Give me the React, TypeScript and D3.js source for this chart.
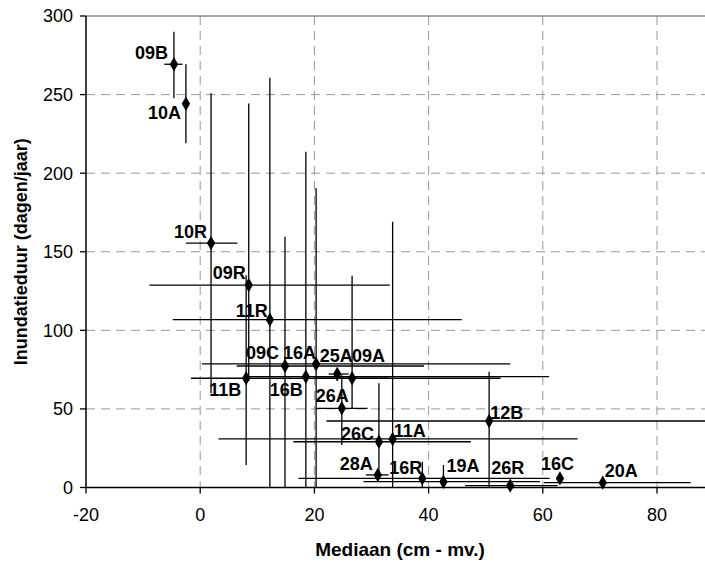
import React from "react";
import * as d3 from "d3";

// ---- data ----
const sites = ["09B","10A","10R","09R","11R","09C","16A","11B","16B","25A","09A","26A","12B","26C","11A","28A","16R","19A","26R","16C","20A"];
const mediaan = [-4.6,-2.5,1.9,8.5,12.2,14.85,20.3,8.05,18.5,24.0,26.6,24.8,50.6,31.3,33.7,31.1,38.9,42.6,54.3,63.0,70.5];
const inundatie = [269.3,244.2,155.5,128.8,106.8,77.3,78.6,69.5,70.5,72.2,69.5,50.4,42.3,29.1,30.9,8.0,5.8,3.7,1.2,5.8,3.1];
const mediaanLow = [-6.3,-2.5,-2.5,-8.9,-4.8,6.4,0.3,-1.6,8,22.5,20,20.4,22.1,16.3,3.2,29,17.2,28.6,46.4,63,60.2];
const mediaanHigh = [-3.1,-2.5,6.5,33.2,45.8,39.2,54.3,52.6,61.1,26,33,29.3,95,47.4,66.1,33,61.2,59.5,62.6,63,85.9];
const inundatieLow = [247.6,219,60,68,0,0,0,14.3,0,68,50.5,27,0,8,0,8,0,0,1.2,5.8,3.1];
const inundatieHigh = [289.9,269.3,250.8,244.4,260.7,159.6,190.4,135,213.7,75,134.8,71.5,73.7,66.3,169.1,8,16.4,14.3,1.2,5.8,6.5];
const xTicks = [-20,0,20,40,60,80];
const yTicks = [0,50,100,150,200,250,300];

// label placement: [anchor, dx, dy]
const labelPlace: Record<string, [string, number, number]> = {
  "09B": ["end", -6, -5], "10A": ["end", -5, 15], "10R": ["end", -4, -5],
  "09R": ["end", -3, -6], "11R": ["end", -2, -3], "09C": ["end", -6, -7],
  "16A": ["end", 0, -5], "25A": ["middle", -1, -12], "09A": ["start", 0, -16],
  "11B": ["end", -5, 18], "16B": ["end", -3, 19], "26A": ["end", 7, -6],
  "26C": ["end", -5, -2], "11A": ["start", 1, -2], "28A": ["end", -5, -5],
  "16R": ["end", 0, -4], "12B": ["start", 1, -2], "19A": ["start", 3, -10],
  "26R": ["start", -19, -12], "16C": ["start", -19, -8], "20A": ["start", 2, -6],
};

const W = 705, H = 563;
const x = d3.scaleLinear().domain([-20, 80]).range([86, 657]);
const y = d3.scaleLinear().domain([0, 300]).range([487.5, 16]);
const FONT = "Arial, 'Liberation Sans', sans-serif";

export default function App() {
  const diamond = d3.symbol().type(d3.symbolDiamond).size(60)();
  const xEnd = W;
  return (
    <svg width={W} height={H} style={{ position: "absolute", left: 0, top: 0, background: "#fff" }} fontFamily={FONT}>
      <rect x={0} y={0} width={W} height={H} fill="#fff" />
      {/* grid */}
      {yTicks.filter(t => t > 0 && t < 300).map(t => (
        <line key={"gy" + t} x1={x(-20)} x2={xEnd} y1={y(t)} y2={y(t)} stroke="#999" strokeWidth={1} strokeDasharray="9,6" />
      ))}
      {xTicks.filter(t => t > -20).map(t => (
        <line key={"gx" + t} x1={x(t)} x2={x(t)} y1={y(300)} y2={y(0)} stroke="#999" strokeWidth={1} strokeDasharray="9,6" />
      ))}
      <line x1={x(-20)} x2={xEnd} y1={y(300)} y2={y(300)} stroke="#888" strokeWidth={1.5} />
      {/* error bars */}
      {sites.map((s, i) => (
        <g key={"eb" + s} stroke="#000" strokeWidth={1.3}>
          {mediaanHigh[i] > mediaanLow[i] && (
            <line x1={x(mediaanLow[i])} x2={x(mediaanHigh[i])} y1={y(inundatie[i])} y2={y(inundatie[i])} />
          )}
          {inundatieHigh[i] > inundatieLow[i] && (
            <line x1={x(mediaan[i])} x2={x(mediaan[i])} y1={y(inundatieLow[i])} y2={y(inundatieHigh[i])} />
          )}
        </g>
      ))}
      {/* axes */}
      <line x1={x(-20)} x2={x(-20)} y1={y(300)} y2={y(0)} stroke="#000" strokeWidth={1.5} />
      <line x1={x(-20)} x2={xEnd} y1={y(0)} y2={y(0)} stroke="#000" strokeWidth={1.5} />
      {yTicks.map(t => (
        <g key={"yt" + t}>
          <line x1={x(-20) - 6} x2={x(-20)} y1={y(t)} y2={y(t)} stroke="#000" strokeWidth={1.3} />
          <text x={x(-20) - 13} y={y(t)} dy="0.36em" textAnchor="end" fontSize={18} fill="#000">{t}</text>
        </g>
      ))}
      {xTicks.map(t => (
        <g key={"xt" + t}>
          <line x1={x(t)} x2={x(t)} y1={y(0)} y2={y(0) + 6} stroke="#000" strokeWidth={1.3} />
          <text x={x(t)} y={y(0) + 33} textAnchor="middle" fontSize={18} fill="#000">{t}</text>
        </g>
      ))}
      {/* points */}
      {sites.map((s, i) => (
        <path key={"pt" + s} d={diamond!} transform={`translate(${x(mediaan[i])},${y(inundatie[i])})`} fill="#000" />
      ))}
      {/* labels */}
      {sites.map((s, i) => {
        const [anchor, dx, dy] = labelPlace[s];
        return (
          <text key={"lb" + s} x={x(mediaan[i]) + dx} y={y(inundatie[i]) + dy} textAnchor={anchor as any}
            fontSize={18} fontWeight="bold" fill="#000">{s}</text>
        );
      })}
      {/* titles */}
      <text x={400} y={556} textAnchor="middle" fontSize={19} fontWeight="bold" fill="#000">Mediaan (cm - mv.)</text>
      <text transform={`translate(27,${(y(0) + y(300)) / 2}) rotate(-90)`} textAnchor="middle" fontSize={18} fontWeight="bold" fill="#000">Inundatieduur (dagen/jaar)</text>
    </svg>
  );
}
